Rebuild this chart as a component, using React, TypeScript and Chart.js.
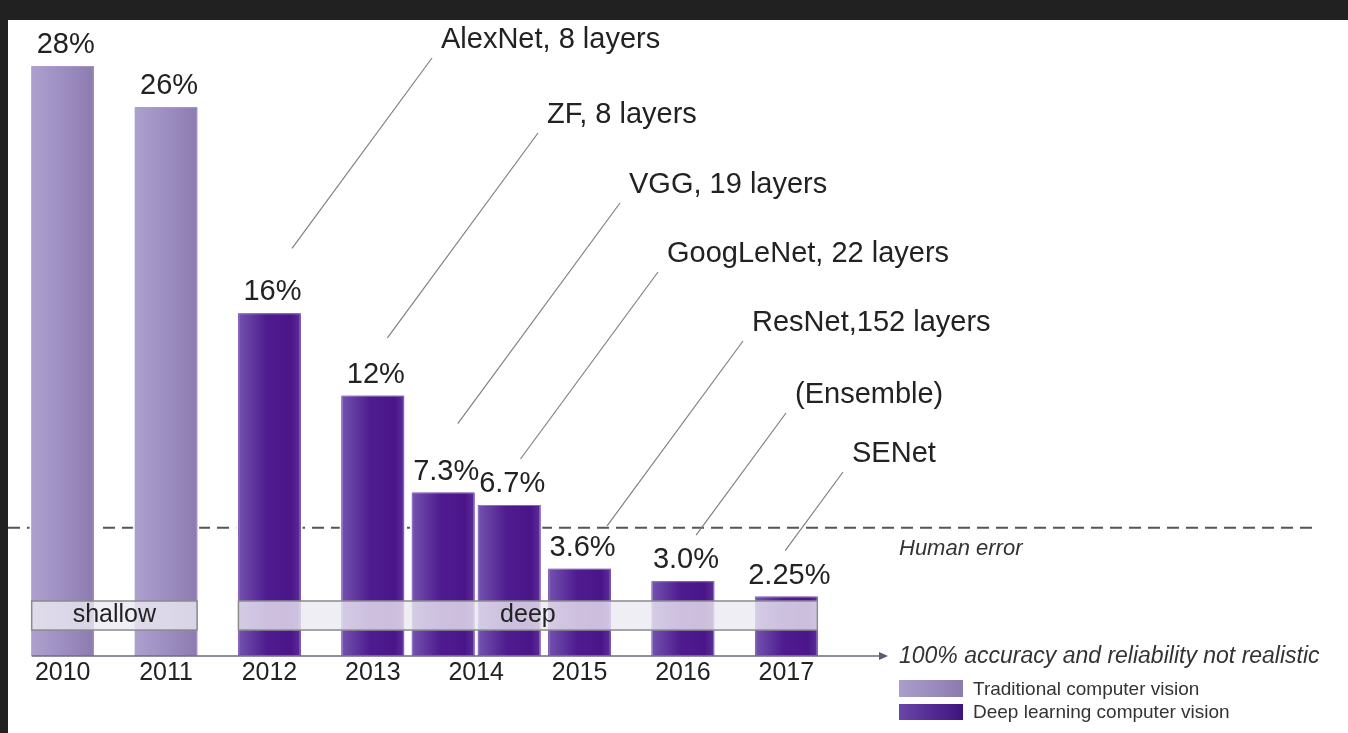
import React, { useEffect, useRef } from 'react';
import { Chart, registerables } from 'chart.js';

Chart.register(...registerables);

// ---------------- data ----------------
const YEARS = ['2010', '2011', '2012', '2013', '2014', '2015', '2016', '2017'];
const TRADITIONAL_ERROR = [28, 26, null, null, null, null, null, null];
const DEEP_ERROR = [null, null, 16, 12, 7.3, 3.6, 3.0, 2.25];
const DEEP_ERROR_2014_B = [null, null, null, null, 6.7, null, null, null];
const DEEP_MODELS = [null, null, 'AlexNet, 8 layers', 'ZF, 8 layers', 'VGG, 19 layers', 'ResNet,152 layers', '(Ensemble)', 'SENet'];
const DEEP_MODELS_2014_B = [null, null, null, null, 'GoogLeNet, 22 layers', null, null, null];
const SERIES_NAMES = ['Traditional computer vision', 'Deep learning computer vision'];
const HUMAN_ERROR = 5.6;
const HUMAN_ERROR_LABEL = 'Human error';
const AXIS_NOTE = '100% accuracy and reliability not realistic';
const ERA_NAMES = ['shallow', 'deep'];
const ERA_FIRST = ['2010', '2012'];
const ERA_LAST = ['2011', '2017'];

// ---------------- layout / style ----------------
const W = 1340;
const H = 713;
const FONT = '"Liberation Sans", Arial, Helvetica, sans-serif';
const TEXT = '#222222';
const Y_MIN = -0.63;
const Y_MAX = 29.27;
const BAND_TOP = 2.04;
const BAND_BOTTOM = 0.63;
const LEADER_SLOPE = 1.36;
const ANNOT_LAYOUT: Record<string, { x: number; baseline: number; drop: number }> = {
  'AlexNet, 8 layers': { x: 433, baseline: 28, drop: 65 },
  'ZF, 8 layers': { x: 539, baseline: 103, drop: 58 },
  'VGG, 19 layers': { x: 621, baseline: 173, drop: 69 },
  'GoogLeNet, 22 layers': { x: 659, baseline: 242, drop: 46 },
  'ResNet,152 layers': { x: 744, baseline: 311, drop: 43 },
  '(Ensemble)': { x: 787, baseline: 383, drop: 46 },
  SENet: { x: 844, baseline: 442, drop: 46 },
};
const GRADIENTS: [number, string][][] = [
  [[0, '#ada1cd'], [0.5, '#9d8ec2'], [1, '#8c7bae']],
  [[0, '#7352ae'], [0.45, '#4f1c90'], [0.85, '#4a1589'], [1, '#5b2d99']],
  [[0, '#7352ae'], [0.45, '#4f1c90'], [0.85, '#4a1589'], [1, '#5b2d99']],
];
const LEGEND_GRADIENTS: [number, string][][] = [
  [[0, '#aa9ecb'], [1, '#8c7bae']],
  [[0, '#6b45a7'], [1, '#3e1380']],
];

function fmt(v: number): string {
  if (v >= 10) return `${v}%`;
  return Number.isInteger(v) ? `${v.toFixed(1)}%` : `${v}%`;
}

function grad(ctx: CanvasRenderingContext2D, x0: number, x1: number, stops: [number, string][]) {
  const g = ctx.createLinearGradient(x0, 0, x1, 0);
  stops.forEach(([o, c]) => g.addColorStop(o, c));
  return g;
}

type BarInfo = { ds: number; i: number; v: number; x: number; top: number; base: number; left: number; right: number };

function collectBars(chart: any): BarInfo[] {
  const out: BarInfo[] = [];
  chart.data.datasets.forEach((d: any, di: number) => {
    const meta = chart.getDatasetMeta(di);
    meta.data.forEach((el: any, i: number) => {
      const v = d.data[i];
      if (v === null || v === undefined) return;
      const p = el.getProps(['x', 'y', 'base', 'width'], true);
      out.push({ ds: di, i, v, x: p.x, top: p.y, base: p.base, left: p.x - p.width / 2 + 2, right: p.x + p.width / 2 - 2 });
    });
  });
  return out;
}

const decorPlugin = {
  id: 'decor',
  beforeDatasetsDraw(chart: any) {
    const { ctx } = chart;
    const yy = chart.scales.y.getPixelForValue(HUMAN_ERROR);
    ctx.save();
    ctx.setLineDash([12, 7]);
    ctx.strokeStyle = '#555';
    ctx.lineWidth = 2;
    ctx.beginPath();
    ctx.moveTo(0, yy);
    ctx.lineTo(1304, yy);
    ctx.stroke();
    ctx.setLineDash([]);
    ctx.fillStyle = '#333';
    ctx.font = `italic 22px ${FONT}`;
    ctx.textBaseline = 'middle';
    ctx.textAlign = 'left';
    ctx.fillText(HUMAN_ERROR_LABEL, 891, yy + 21);
    ctx.restore();
  },
  afterDatasetsDraw(chart: any) {
    const { ctx } = chart;
    const yScale = chart.scales.y;
    const bars = collectBars(chart);
    ctx.save();

    // bar gradients
    bars.forEach((b) => {
      ctx.fillStyle = grad(ctx, b.left, b.right, GRADIENTS[b.ds]);
      ctx.fillRect(b.left, b.top, b.right - b.left, b.base - b.top);
      ctx.strokeStyle = 'rgba(175,155,215,0.6)';
      ctx.lineWidth = 1;
      ctx.strokeRect(b.left + 0.5, b.top + 0.5, b.right - b.left - 1, b.base - b.top - 1);
    });

    // era bands
    const bt = yScale.getPixelForValue(BAND_TOP);
    const bb = yScale.getPixelForValue(BAND_BOTTOM);
    ERA_NAMES.forEach((name, k) => {
      const i0 = YEARS.indexOf(ERA_FIRST[k]);
      const i1 = YEARS.indexOf(ERA_LAST[k]);
      const sel = bars.filter((b) => b.i >= i0 && b.i <= i1);
      const l = Math.min(...sel.map((b) => b.left));
      const r = Math.max(...sel.map((b) => b.right));
      ctx.fillStyle = 'rgba(236,234,243,0.8)';
      ctx.fillRect(l, bt, r - l, bb - bt);
      ctx.strokeStyle = '#8a8a8f';
      ctx.lineWidth = 1.5;
      ctx.strokeRect(l, bt, r - l, bb - bt);
      ctx.fillStyle = TEXT;
      ctx.font = `25px ${FONT}`;
      ctx.textAlign = 'center';
      ctx.textBaseline = 'middle';
      ctx.fillText(name, (l + r) / 2, (bt + bb) / 2);
    });

    // axis with arrow
    const ay = chart.chartArea.bottom;
    const ax0 = Math.min(...bars.map((b) => b.left));
    const tip = 880;
    ctx.strokeStyle = '#6e6880';
    ctx.lineWidth = 1.5;
    ctx.beginPath();
    ctx.moveTo(ax0, ay);
    ctx.lineTo(tip - 6, ay);
    ctx.stroke();
    ctx.fillStyle = '#5e5870';
    ctx.beginPath();
    ctx.moveTo(tip, ay);
    ctx.lineTo(tip - 9, ay - 4);
    ctx.lineTo(tip - 9, ay + 4);
    ctx.closePath();
    ctx.fill();
    ctx.fillStyle = '#333';
    ctx.font = `italic 23px ${FONT}`;
    ctx.textAlign = 'left';
    ctx.textBaseline = 'middle';
    ctx.fillText(AXIS_NOTE, 891, ay + 1);

    // value labels
    ctx.fillStyle = TEXT;
    ctx.font = `29px ${FONT}`;
    ctx.textAlign = 'center';
    ctx.textBaseline = 'alphabetic';
    bars.forEach((b) => {
      ctx.fillText(fmt(b.v), b.x + 3, b.top - 13);
    });

    // model annotations with leader lines
    const names = [null, DEEP_MODELS, DEEP_MODELS_2014_B];
    bars.forEach((b) => {
      const list = names[b.ds];
      if (!list) return;
      const name = list[b.i];
      if (!name) return;
      const lay = ANNOT_LAYOUT[name];
      const ux = lay.x - 9;
      const uy = lay.baseline + 10;
      const ly = b.top - lay.drop;
      const lx = ux - (ly - uy) / LEADER_SLOPE;
      ctx.strokeStyle = '#808080';
      ctx.lineWidth = 1.2;
      ctx.beginPath();
      ctx.moveTo(lx, ly);
      ctx.lineTo(ux, uy);
      ctx.stroke();
      ctx.fillStyle = TEXT;
      ctx.font = `29px ${FONT}`;
      ctx.textAlign = 'left';
      ctx.textBaseline = 'alphabetic';
      ctx.fillText(name, lay.x, lay.baseline);
    });

    // legend
    SERIES_NAMES.forEach((name, k) => {
      const y0 = k === 0 ? 660 : 684;
      const h = k === 0 ? 17 : 16;
      ctx.fillStyle = grad(ctx, 891, 955, LEGEND_GRADIENTS[k]);
      ctx.fillRect(891, y0, 64, h);
      ctx.fillStyle = '#333';
      ctx.font = `19px ${FONT}`;
      ctx.textAlign = 'left';
      ctx.textBaseline = 'middle';
      ctx.fillText(name, 965, y0 + h / 2 + 1);
    });

    ctx.restore();
  },
};

export default function App() {
  const ref = useRef<HTMLCanvasElement | null>(null);

  useEffect(() => {
    document.body.style.margin = '0';
    document.body.style.background = '#212121';
    if (!ref.current) return;
    const chart = new Chart(ref.current, {
      type: 'bar',
      data: {
        labels: YEARS,
        datasets: [
          { label: SERIES_NAMES[0], data: TRADITIONAL_ERROR, backgroundColor: '#9d8ec2', base: Y_MIN },
          { label: SERIES_NAMES[1], data: DEEP_ERROR, backgroundColor: '#4f1c90', base: Y_MIN },
          { label: SERIES_NAMES[1], data: DEEP_ERROR_2014_B, backgroundColor: '#4f1c90', base: Y_MIN },
        ] as any,
      },
      options: {
        animation: false,
        responsive: false,
        maintainAspectRatio: false,
        skipNull: true,
        barThickness: 66,
        borderWidth: { left: 2, right: 2, top: 0, bottom: 0 },
        borderColor: '#ffffff',
        borderSkipped: false,
        layout: { padding: { top: 20, left: 3, right: 510, bottom: 0 } },
        plugins: { legend: { display: false }, tooltip: { enabled: false } },
        scales: {
          x: {
            type: 'category',
            offset: true,
            grid: { display: false, drawTicks: false },
            border: { display: false },
            ticks: {
              color: TEXT,
              font: { family: FONT, size: 25, lineHeight: 1.2 },
              padding: 2,
              maxRotation: 0,
              autoSkip: false,
            },
            afterFit: (s: any) => {
              s.height = 77;
            },
          },
          y: { display: false, min: Y_MIN, max: Y_MAX },
        },
      } as any,
      plugins: [decorPlugin],
    });
    return () => chart.destroy();
  }, []);

  return (
    <div style={{ position: 'absolute', left: 8, top: 20, width: W, height: H, background: '#ffffff' }}>
      <canvas ref={ref} width={W} height={H} style={{ display: 'block', width: W, height: H }} />
    </div>
  );
}
